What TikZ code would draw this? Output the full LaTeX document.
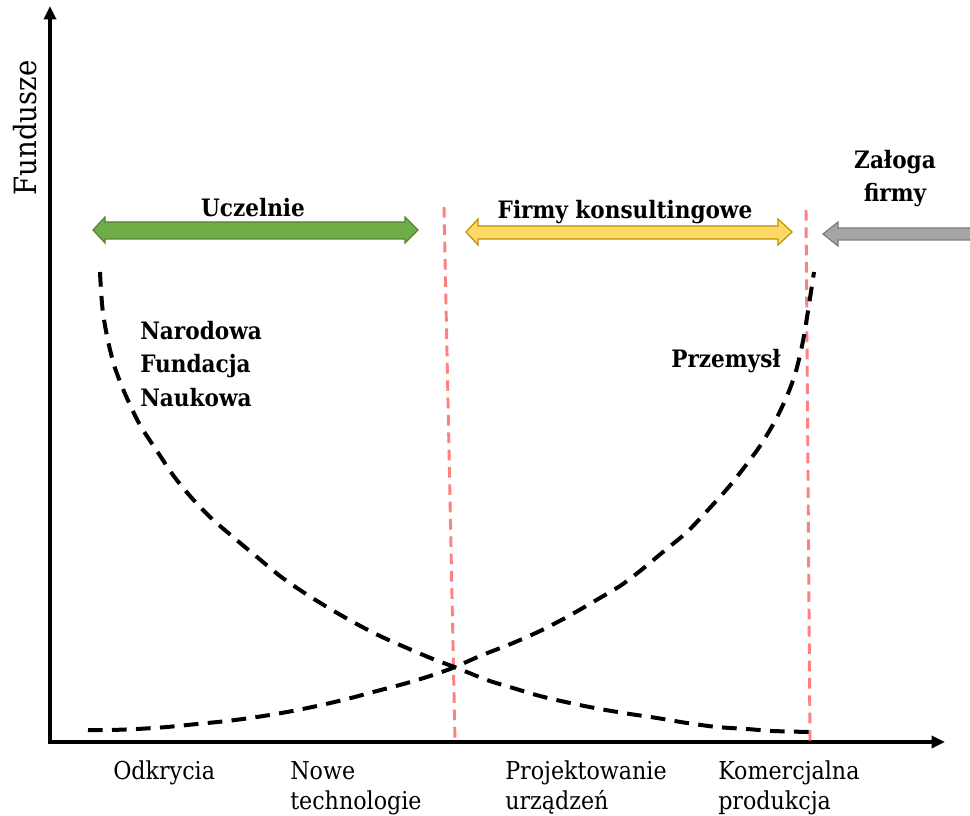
\documentclass[tikz,border=0pt]{standalone}
\usepackage{fontspec}
\setmainfont{DejaVu Serif Condensed}
\usetikzlibrary{arrows.meta}
\definecolor{gfill}{RGB}{112,173,71}
\definecolor{gdraw}{RGB}{84,130,53}
\definecolor{yfill}{RGB}{255,217,102}
\definecolor{ydraw}{RGB}{191,144,0}
\definecolor{afill}{RGB}{165,165,165}
\definecolor{adraw}{RGB}{124,124,124}
\definecolor{redl}{RGB}{255,128,128}
\begin{document}
\begin{tikzpicture}[x=0.75pt,y=-0.75pt,
  axis/.style={line width=2.6pt,-{Triangle[length=10pt,width=9pt]}},
  curve/.style={line width=3pt,dash pattern=on 11pt off 7pt},
  redline/.style={redl,line width=2.2pt,dash pattern=on 8pt off 5pt},
  boldlab/.style={font=\bfseries\fontsize{18}{25}\selectfont,inner sep=0pt},
  steplab/.style={font=\fontsize{18.5}{22.5}\selectfont,inner sep=0pt,align=left,anchor=base west},
  fat/.style={line width=0.9pt}]
\useasboundingbox (0,0) rectangle (970,816);
% axes
\coordinate (O) at (50,742);
\coordinate (Ytop) at (50,6);
\coordinate (Xend) at (945,742);
\draw[axis] (50,743) -- (Ytop);
\draw[axis] (48,742) -- (Xend);
\node[rotate=90,font=\fontsize{23}{26}\selectfont,inner sep=0pt] (fund) at (25,128) {Fundusze};
% red dashed separators
\coordinate (r1t) at (444,207);
\coordinate (r1b) at (455,742);
\coordinate (r2t) at (806,210);
\coordinate (r2b) at (810,742);
\draw[redline] (r1t) -- (r1b);
\draw[redline] (r2t) -- (r2b);
% curves
\draw[curve] plot[smooth,tension=0.5] coordinates {(100,272) (101,290) (103,313) (108,341) (115,368) (126,396) (140,425) (157,451) (173,475) (190,496) (210,517) (233,537) (257,557) (280,576) (303,592) (327,607) (353,622) (380,636) (407,648) (433,659) (457,668) (487,680) (513,688) (540,696) (570,703) (600,709) (630,714) (657,718) (687,723) (717,727) (747,729) (773,731) (810,732)};
\draw[curve] plot[smooth,tension=0.5] coordinates {(88,730) (110,730) (137,729) (167,727) (197,724) (227,721) (257,717) (287,712) (317,706) (347,699) (377,691) (407,683) (433,675) (455,667) (480,656) (513,643) (540,631) (567,617) (593,602) (620,586) (640,571) (663,552) (687,532) (707,511) (727,489) (743,469) (760,446) (775,421) (787,396) (796,371) (803,341) (808,311) (812,285) (814,272)};
% fat arrows
\draw[fat,draw=gdraw,fill=gfill] (93,230) -- (105,217) -- (105,222) -- (405,222) -- (405,217) -- (418,230) -- (405,243) -- (405,239) -- (105,239) -- (105,243) -- cycle;
\draw[fat,draw=ydraw,fill=yfill] (466,232) -- (478,219) -- (478,226) -- (778,226) -- (778,219) -- (792,232) -- (778,245) -- (778,239) -- (478,239) -- (478,245) -- cycle;
\draw[fat,draw=adraw,fill=afill] (823,234) -- (838,222) -- (838,228) -- (980,228) -- (980,240) -- (838,240) -- (838,246) -- cycle;
% labels
\node[boldlab,anchor=base] (ucz) at (253,217) {Uczelnie};
\node[boldlab,anchor=base] (firmy) at (625,219) {Firmy konsultingowe};
\node[boldlab,align=center,anchor=base] (zal) at (895,202) {Załoga\\firmy};
\node[boldlab,align=left,anchor=base west] (nfn) at (140,406) {Narodowa\\Fundacja\\Naukowa};
\node[boldlab,anchor=base] (prz) at (726,367) {Przemysł};
% stages
\node[steplab] (s1) at (113,779) {Odkrycia};
\node[steplab] (s2) at (290,809) {Nowe\\technologie};
\node[steplab] (s3) at (505,809) {Projektowanie\\urządzeń};
\node[steplab] (s4) at (718,809) {Komercjalna\\produkcja};
\end{tikzpicture}
\end{document}
